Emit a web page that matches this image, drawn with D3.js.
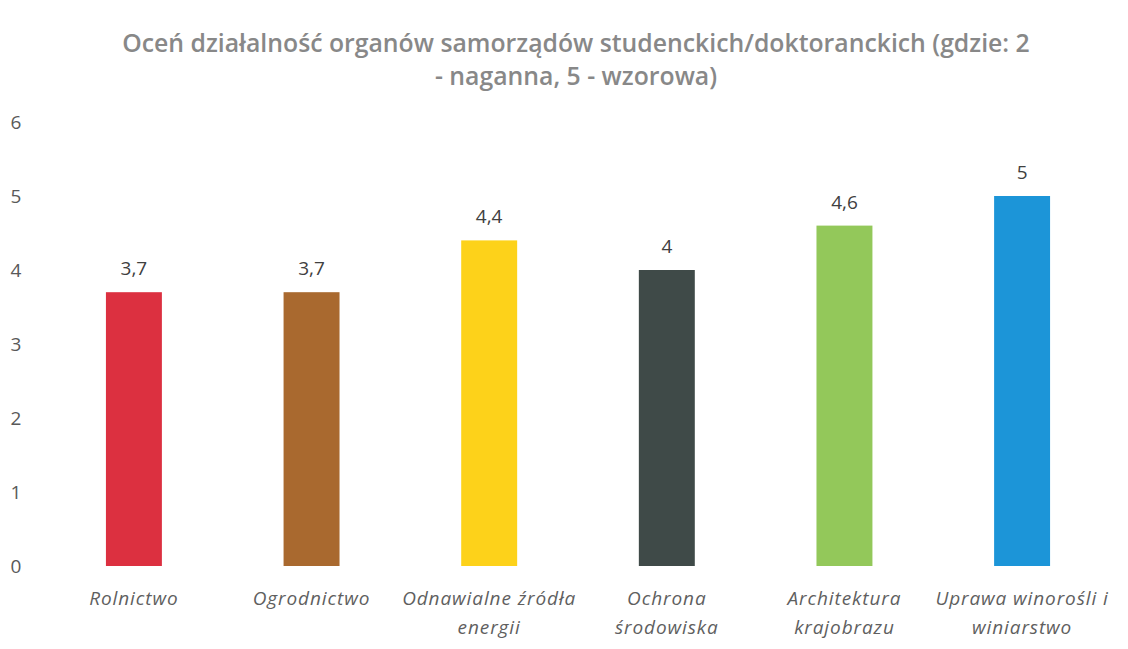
<!DOCTYPE html>
<html>
<head>
<meta charset="utf-8">
<script src="https://cdn.jsdelivr.net/npm/d3@7"></script>
<style>
  body { margin: 0; background: #fff; }
</style>
</head>
<body>
<div id="chart"></div>
<script>
const categories = [
    ["Rolnictwo"],
    ["Ogrodnictwo"],
    ["Odnawialne źródła", "energii"],
    ["Ochrona", "środowiska"],
    ["Architektura", "krajobrazu"],
    ["Uprawa winorośli i", "winiarstwo"]
];
const values = [3.7, 3.7, 4.4, 4, 4.6, 5];
const colors = ["#dc3040", "#a9692f", "#fdd21a", "#3f4a48", "#93c85a", "#1c95d8"];
const yTicks = [0, 1, 2, 3, 4, 5, 6];
const titleLines = [
    "Oceń działalność organów samorządów studenckich/doktoranckich (gdzie: 2",
    "- naganna, 5 - wzorowa)"
];

const width = 1128;
const height = 649;
const margin = { top: 122, right: 17, bottom: 83, left: 45 };
const graphWidth = width - margin.left - margin.right;
const graphHeight = height - margin.top - margin.bottom;
const font = '"Open Sans", sans-serif';

const svg = d3.select('#chart')
    .append('svg')
    .attr('width', width)
    .attr('height', height);

// title, squeezed to the width it has in the original
const title = svg.append('text')
    .attr('x', 576)
    .attr('y', 52)
    .attr('text-anchor', 'middle')
    .style('font-family', font)
    .style('font-weight', '600')
    .style('font-size', '22px')
    .attr('fill', '#888');

title.selectAll('tspan')
    .data(titleLines)
    .enter()
    .append('tspan')
    .attr('x', 576)
    .attr('dy', (d, i) => i === 0 ? 0 : 33)
    .text(d => d);

const first = title.select('tspan').node();
const w = first.getComputedTextLength();
if (w > 0) {
    title.style('font-size', Math.min(25, 22 * 908 / w) + 'px');
}

const graph = svg.append('g')
    .attr('transform', `translate(${margin.left}, ${margin.top})`);

const y = d3.scaleLinear()
    .domain([0, 6])
    .range([graphHeight, 0]);

const x = d3.scaleBand()
    .domain(d3.range(values.length))
    .range([0, graphWidth])
    .paddingInner(0.685)
    .paddingOuter(0.343);

const yAxis = d3.axisLeft(y)
    .tickValues(yTicks)
    .tickFormat(d3.format('d'))
    .tickSize(0)
    .tickPadding(0);

const gYAxis = graph.append('g')
    .attr('transform', 'translate(-29, 0)')
    .call(yAxis);
gYAxis.select('.domain').remove();
gYAxis.selectAll('text')
    .attr('text-anchor', 'middle')
    .style('font-family', font)
    .style('font-size', '19px')
    .attr('fill', '#595959');

graph.selectAll('rect')
    .data(values)
    .enter()
    .append('rect')
    .attr('x', (d, i) => x(i))
    .attr('y', d => y(d))
    .attr('width', x.bandwidth())
    .attr('height', d => graphHeight - y(d))
    .attr('fill', (d, i) => colors[i]);

graph.selectAll('.value-label')
    .data(values)
    .enter()
    .append('text')
    .attr('class', 'value-label')
    .attr('x', (d, i) => x(i) + x.bandwidth() / 2)
    .attr('y', d => y(d) - 17)
    .attr('text-anchor', 'middle')
    .style('font-family', font)
    .style('font-size', '19px')
    .attr('fill', '#404040')
    .text(d => String(d).replace('.', ','));

const labels = graph.selectAll('.cat-label')
    .data(categories)
    .enter()
    .append('text')
    .attr('class', 'cat-label')
    .attr('text-anchor', 'middle')
    .attr('y', graphHeight + 39)
    .style('font-family', font)
    .style('font-style', 'italic')
    .style('font-size', '19px')
    .style('letter-spacing', '0.9px')
    .attr('fill', '#5f5f5f');

labels.selectAll('tspan')
    .data((d, i) => d.map(line => ({ line, i })))
    .enter()
    .append('tspan')
    .attr('x', d => x(d.i) + x.bandwidth() / 2)
    .attr('dy', (d, j) => j === 0 ? 0 : 29)
    .text(d => d.line);
</script>
</body>
</html>
